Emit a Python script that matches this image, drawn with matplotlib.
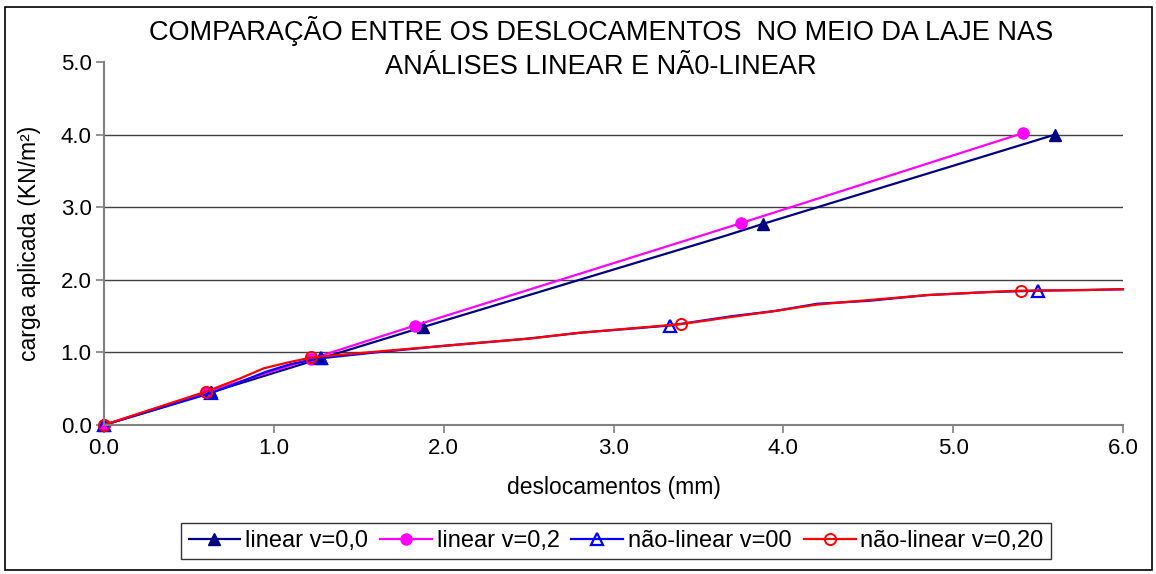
import matplotlib.pyplot as plt
from matplotlib.patches import Rectangle

plt.rcParams['font.family'] = ['Liberation Sans', 'DejaVu Sans']

# linear v=0,0
lin0_x = [0, 0.63, 1.28, 1.88, 3.65, 3.88, 5.6]
lin0_y = [0, 0.45, 0.92, 1.35, 2.60, 2.77, 4.0]
lin0_marks = [0, 1, 2, 3, 5, 6]

# linear v=0,2
lin2_x = [0, 0.60, 1.22, 1.83, 3.75, 5.41]
lin2_y = [0, 0.45, 0.91, 1.37, 2.78, 4.02]

# nao-linear v=00
nl0_x = [0, 0.63, 0.80, 0.95, 1.10, 1.28, 1.60, 2.00, 2.50, 2.80, 3.33,
         3.70, 3.95, 4.20, 4.50, 4.85, 5.20, 5.50, 5.80, 6.00]
nl0_y = [0, 0.44, 0.59, 0.73, 0.84, 0.92, 1.00, 1.09, 1.19, 1.27, 1.37,
         1.50, 1.57, 1.67, 1.71, 1.79, 1.83, 1.85, 1.86, 1.87]

# nao-linear v=0,20
nl2_x = [0, 0.60, 0.80, 0.94, 1.08, 1.22, 1.60, 2.00, 2.50, 2.80, 3.40,
         3.70, 3.95, 4.20, 4.50, 4.85, 5.20, 5.40, 5.80, 6.00]
nl2_y = [0, 0.46, 0.64, 0.78, 0.86, 0.93, 1.01, 1.09, 1.19, 1.27, 1.39,
         1.49, 1.57, 1.66, 1.72, 1.79, 1.83, 1.85, 1.86, 1.87]
nl_marks = [0, 1, 5, 10, 17]

xticks = [0, 1, 2, 3, 4, 5, 6]
yticks = [0, 1, 2, 3, 4, 5]

fig = plt.figure(figsize=(11.56, 5.74), dpi=100)
ax = fig.add_axes([104/1156, 1-425/574, (1123-104)/1156, (425-62)/574])

ax.plot(lin0_x, lin0_y, color='#000080', lw=1.6, marker='^', ms=9,
        markevery=lin0_marks, label='linear v=0,0', clip_on=False)
ax.plot(lin2_x, lin2_y, color='#FF00FF', lw=1.6, marker='o', ms=8,
        label='linear v=0,2', clip_on=False)
ax.plot(nl0_x, nl0_y, color='#0000FF', lw=1.6, marker='^', ms=9, mfc='none',
        mew=1.6, markevery=nl_marks, label='não-linear v=00', clip_on=False)
ax.plot(nl2_x, nl2_y, color='#FF0000', lw=1.6, marker='o', ms=8, mfc='none',
        mew=1.4, markevery=nl_marks, label='não-linear v=0,20', clip_on=False)

ax.set_xlim(0, 6)
ax.set_ylim(0, 5)
ax.set_xticks(xticks)
ax.set_yticks(yticks)
ax.set_xticklabels([f'{v:.1f}' for v in xticks])
ax.set_yticklabels([f'{v:.1f}' for v in yticks])
ax.tick_params(labelsize=16, length=5.5, color='#808080', width=1.2)
ax.tick_params(axis='x', pad=4)
ax.grid(axis='y', color='#404040', lw=1)
ax.yaxis.get_gridlines()[-1].set_visible(False)
ax.set_axisbelow(True)
for s in ['top', 'right']:
    ax.spines[s].set_visible(False)
for s in ['left', 'bottom']:
    ax.spines[s].set_color('#808080')
    ax.spines[s].set_linewidth(1.5)

ax.set_xlabel('deslocamentos (mm)', fontsize=16.5, labelpad=12)
ax.set_ylabel('carga aplicada (KN/m²)', fontsize=16.5, labelpad=14)
fig.text(601/1156, 1-48/574,
         'COMPARAÇÃO ENTRE OS DESLOCAMENTOS  NO MEIO DA LAJE NAS\nANÁLISES LINEAR E NÃ0-LINEAR',
         ha='center', va='center', fontsize=19.5, linespacing=1.35)

leg = fig.legend(loc='center', bbox_to_anchor=(616/1156, 1-541/574), ncol=4,
                 fontsize=17, frameon=True, fancybox=False, handlelength=2.2,
                 handletextpad=0.2, columnspacing=0.5, borderpad=0.3,
                 borderaxespad=0)
leg.get_frame().set_edgecolor('black')
leg.get_frame().set_linewidth(1)

fig.patches.append(Rectangle((5/1156, 4/574), 1147/1156, 563/574, fill=False,
                             edgecolor='black', lw=1.2, transform=fig.transFigure))

fig.savefig('out.png', dpi=100)
